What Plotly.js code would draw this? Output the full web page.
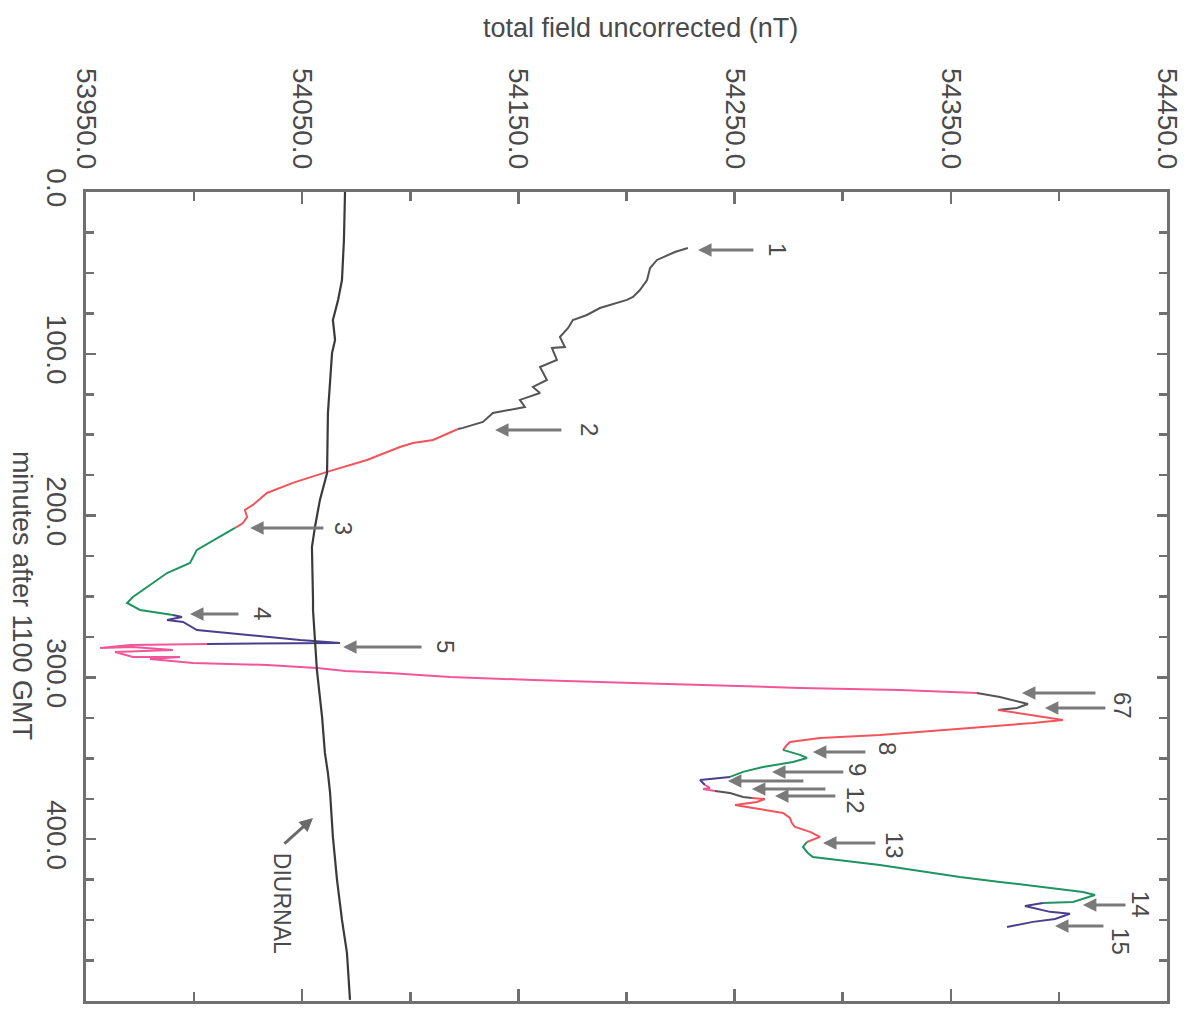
<!DOCTYPE html>
<html>
<head>
<meta charset="utf-8">
<script src="https://cdn.plot.ly/plotly-3.0.1.min.js"></script>
<style>html,body{margin:0;padding:0;background:#fff;}#chart{width:1187px;height:1018px;}</style>
</head>
<body>
<div id="chart"></div>
<script>
// ---- data (minutes after 1100 GMT, total field nT) ----
const gray1Min   = [34.6, 37.1, 42.0, 47.0, 54.4, 60.6, 64.9, 66.7, 71.7, 76.0, 79.1, 84.0, 89.6, 95.8, 96.4, 103.8, 108.2, 116.2, 120.5, 124.2, 128.5, 132.9, 136.6, 142.1, 145.8, 146.5];
const gray1Field = [54228.4, 54222.4, 54214.1, 54210.9, 54209.5, 54206.2, 54203.0, 54200.2, 54187.7, 54181.7, 54175.2, 54173.0, 54169.2, 54171.5, 54165.5, 54167.8, 54160.0, 54163.2, 54156.7, 54160.0, 54150.7, 54153.0, 54138.2, 54133.6, 54124.4, 54122.1];

const red1Min   = [146.5, 153.3, 155.1, 157.6, 165.6, 173.0, 179.8, 186.0, 193.4, 196.5, 200.9, 204.6, 207.0, 207.6];
const red1Field = [54122.1, 54110.5, 54101.2, 54095.2, 54080.0, 54061.5, 54045.7, 54033.7, 54027.2, 54023.5, 54024.5, 54022.6, 54019.8, 54018.9];

const green1Min   = [207.6, 213.8, 221.2, 229.3, 235.5, 250.3, 254.0, 258.3, 260.2, 261.4];
const green1Field = [54018.9, 54010.6, 54001.3, 53998.1, 53987.5, 53971.7, 53969.0, 53975.0, 53985.6, 53990.2];

const purple1Min   = [261.4, 262.7, 264.5, 265.7, 270.7, 273.8, 276.9, 278.7, 279.3];
const purple1Field = [53990.2, 53994.4, 53987.5, 53994.9, 54001.3, 54024.5, 54049.0, 54067.5, 54006.0];

const pink1Min   = [279.3, 280.0, 281.8, 281.2, 283.0, 284.3, 287.4, 287.4, 288.6, 291.1, 292.3, 294.2, 296.0, 297.3, 299.7, 301.6, 303.4, 305.3, 306.5, 307.8, 309.6];
const pink1Field = [54006.0, 53970.4, 53956.5, 53971.7, 53990.2, 53963.4, 53971.7, 53993.5, 53979.6, 53999.5, 54033.7, 54056.8, 54070.0, 54090.0, 54118.4, 54156.7, 54203.0, 54249.2, 54280.2, 54326.5, 54362.1];

const gray2Min   = [309.6, 312.1, 315.2, 316.4, 318.9, 320.1];
const gray2Field = [54362.1, 54372.7, 54382.0, 54385.7, 54380.6, 54371.8];

const red2Min   = [320.1, 322.0, 326.3, 328.2, 331.2, 334.3, 335.6, 337.4, 339.9, 341.8, 344.8];
const red2Field = [54371.8, 54380.6, 54401.9, 54388.0, 54357.5, 54326.5, 54317.2, 54289.5, 54275.6, 54274.2, 54272.4];

const green2Min   = [344.8, 347.9, 349.8, 352.3, 355.4, 358.4, 361.5];
const green2Field = [54272.4, 54280.2, 54283.5, 54277.0, 54263.1, 54253.9, 54247.9];

const purple2Min   = [361.5, 363.4, 366.5];
const purple2Field = [54247.9, 54234.0, 54236.3];

const pink2Min   = [366.5, 368.3, 369.0, 370.2];
const pink2Field = [54236.3, 54238.6, 54235.4, 54240.9];

const gray3Min   = [370.2, 371.4, 373.9, 374.5];
const gray3Field = [54240.9, 54247.9, 54253.9, 54258.0];

const red3Min   = [374.5, 375.2, 377.0, 378.8, 380.1, 383.8, 386.9, 390.0, 392.4, 395.5, 398.6, 401.7];
const red3Field = [54258.0, 54264.0, 54260.3, 54250.2, 54255.7, 54272.4, 54275.6, 54276.5, 54277.9, 54284.9, 54289.5, 54283.5];

const green3Min   = [401.7, 404.8, 408.5, 411.0, 415.9, 423.3, 426.4, 432.6, 434.5, 438.8, 439.4];
const green3Field = [54283.5, 54281.6, 54283.9, 54286.2, 54317.2, 54354.2, 54372.7, 54411.1, 54416.7, 54406.5, 54392.6];

const purple3Min   = [439.4, 441.3, 444.9, 446.1, 449.3, 451.1, 454.2];
const purple3Field = [54392.6, 54384.3, 54395.9, 54405.1, 54398.2, 54388.0, 54376.0];

const diurnalMin   = [0, 29.7, 54.4, 66.7, 79.1, 91.5, 99.5, 136.6, 173.7, 190.3, 207.0, 219.4, 252.1, 258.3, 295.4, 324.5, 346.7, 359.1, 371.4, 398.6, 425.2, 449.9, 470.3, 499.3];
const diurnalField = [54069.8, 54069.3, 54068.4, 54066.6, 54064.2, 54065.2, 54063.8, 54061.9, 54061.5, 54058.2, 54055.9, 54054.5, 54055.0, 54055.0, 54056.8, 54059.2, 54060.5, 54061.9, 54062.9, 54064.2, 54066.1, 54068.4, 54070.7, 54072.1];

// marker arrows: label, minute, head field, tail field
const markLabels = ['1', '2', '3', '4', '5', '6', '7', '8', '9', '10', '11', '12', '13', '14', '15'];
const markMin    = [35.8, 147.1, 207.6, 260.8, 281.2, 309.6, 318.9, 346.1, 358.4, 364.0, 369.0, 373.3, 402.3, 440.6, 453.6];
const markHead   = [54233.1, 54139.2, 54025.9, 53998.1, 54068.9, 54382.9, 54393.5, 54286.2, 54267.3, 54246.9, 54258.0, 54268.7, 54290.9, 54411.1, 54398.2];
const markTail   = [54259.4, 54170.6, 54060.5, 54021.2, 54105.9, 54417.6, 54422.2, 54311.2, 54301.0, 54282.5, 54292.7, 54297.3, 54315.8, 54431.5, 54421.3];

// number labels shown next to arrows
const numText  = ['1', '2', '3', '4', '5', '67', '8', '9', '12', '13', '14', '15'];
const numMin   = [35.8, 147.1, 207.6, 260.8, 281.2, 317.0, 343.6, 357.2, 375.7, 403.6, 440.6, 463.5];
const numField = [54269.6, 54183.1, 54068.9, 54031.4, 54116.0, 54429.2, 54320.5, 54306.6, 54305.7, 54324.2, 54437.5, 54428.2];

const fieldTicks  = [53950, 54050, 54150, 54250, 54350, 54450];
const minuteTicks = [0, 100, 200, 300, 400, 500];

// ---- styles ----
const C = {gray: '#555555', red: '#f2545b', green: '#1f9460', purple: '#4a3f8c', pink: '#f2569a'};
const segs = [
  [gray1Min, gray1Field, C.gray], [red1Min, red1Field, C.red], [green1Min, green1Field, C.green],
  [purple1Min, purple1Field, C.purple], [pink1Min, pink1Field, C.pink], [gray2Min, gray2Field, C.gray],
  [red2Min, red2Field, C.red], [green2Min, green2Field, C.green], [purple2Min, purple2Field, C.purple],
  [pink2Min, pink2Field, C.pink], [gray3Min, gray3Field, C.gray], [red3Min, red3Field, C.red],
  [green3Min, green3Field, C.green], [purple3Min, purple3Field, C.purple]
];

const traces = segs.map(s => ({
  type: 'scatter', mode: 'lines', x: s[1], y: s[0],
  line: {color: s[2], width: 2}, showlegend: false, hoverinfo: 'skip'
}));
traces.push({type: 'scatter', mode: 'lines', x: diurnalField, y: diurnalMin,
  line: {color: '#3a3a3a', width: 2.2}, showlegend: false, hoverinfo: 'skip'});

const FONT = 'Liberation Sans, Arial, Helvetica, sans-serif';
const TXT = '#4a4a4a';
const ann = [];
markLabels.forEach((l, i) => {
  ann.push({x: markHead[i], y: markMin[i], ax: markTail[i], ay: markMin[i], axref: 'x', ayref: 'y',
    xref: 'x', yref: 'y', text: '', showarrow: true, arrowhead: 2, arrowsize: 0.9, arrowwidth: 3,
    arrowcolor: '#7a7a7a', standoff: 0, startstandoff: 0});
});
numText.forEach((t, i) => {
  ann.push({x: numField[i], y: numMin[i], xref: 'x', yref: 'y', text: t, showarrow: false,
    textangle: 90, font: {family: FONT, size: 24, color: TXT}});
});
ann.push({x: 54055.0, y: 386.9, ax: 54041.1, ay: 403.6, axref: 'x', ayref: 'y', xref: 'x', yref: 'y',
  text: '', showarrow: true, arrowhead: 2, arrowsize: 0.9, arrowwidth: 3, arrowcolor: '#6a6a6a', standoff: 0});
ann.push({x: 54040.7, y: 439.4, xref: 'x', yref: 'y', text: 'DIURNAL', showarrow: false, textangle: 90,
  font: {family: FONT, size: 23, color: TXT}});
ann.push({x: 0.5125, y: 1.203, xref: 'paper', yref: 'paper', text: 'total field uncorrected (nT)',
  showarrow: false, font: {family: FONT, size: 27, color: TXT}, xanchor: 'center', yanchor: 'middle'});
ann.push({x: -0.0592, y: 0.502, xref: 'paper', yref: 'paper', text: 'minutes after 1100 GMT',
  showarrow: false, textangle: 90, font: {family: FONT, size: 27, color: TXT}, xanchor: 'center', yanchor: 'middle'});

const layout = {
  width: 1187, height: 1018,
  margin: {l: 86, r: 20, t: 192, b: 17},
  paper_bgcolor: '#ffffff', plot_bgcolor: '#ffffff',
  showlegend: false,
  xaxis: {
    side: 'top', range: [53950, 54450], tickvals: fieldTicks, tickformat: '.1f', tickangle: 90,
    tickfont: {family: FONT, size: 28, color: TXT}, ticks: 'inside', ticklen: 12, tickwidth: 2.5,
    tickcolor: '#707070', showline: true, linecolor: '#707070', linewidth: 3, mirror: 'ticks',
    showgrid: false, zeroline: false, ticklabelstandoff: 10,
    minor: {dtick: 50, ticks: 'inside', ticklen: 9, tickwidth: 2.5, tickcolor: '#707070', showgrid: false}
  },
  yaxis: {
    range: [500, 0], tickvals: minuteTicks, tickformat: '.1f', tickangle: 90,
    tickfont: {family: FONT, size: 28, color: TXT}, ticks: 'inside', ticklen: 10, tickwidth: 2.5,
    tickcolor: '#707070', showline: true, linecolor: '#707070', linewidth: 3, mirror: 'ticks',
    showgrid: false, zeroline: false, ticklabelstandoff: 2,
    minor: {dtick: 25, ticks: 'inside', ticklen: 8, tickwidth: 2.5, tickcolor: '#707070', showgrid: false}
  },
  annotations: ann
};

Plotly.newPlot('chart', traces, layout, {staticPlot: true, displayModeBar: false});
</script>
</body>
</html>
